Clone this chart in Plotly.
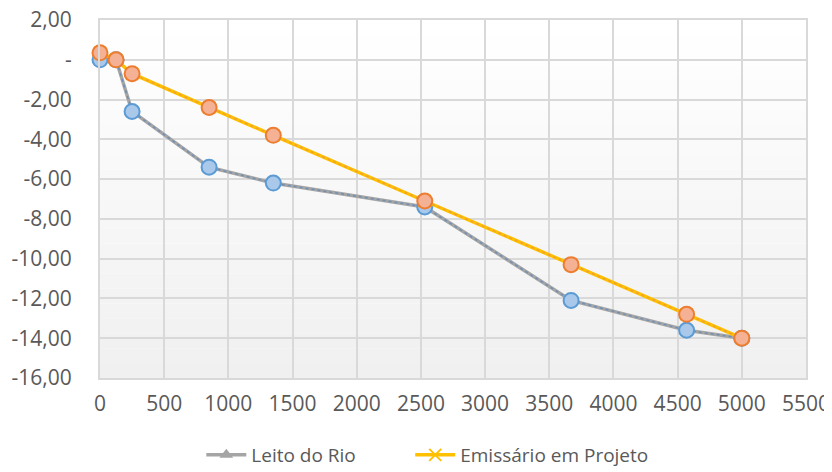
import plotly.graph_objects as go

# Data
distance = [0, 125, 250, 850, 1350, 2530, 3670, 4570, 5000]
leito_do_rio = [0.0, 0.0, -2.6, -5.4, -6.2, -7.4, -12.1, -13.6, -14.0]
emissario = [0.35, 0.0, -0.7, -2.4, -3.8, -7.1, -10.3, -12.8, -14.0]

y_tickvals = [2, 0, -2, -4, -6, -8, -10, -12, -14, -16]
y_ticktext = ["2,00", "-", "-2,00", "-4,00", "-6,00", "-8,00", "-10,00", "-12,00", "-14,00", "-16,00"]
x_tickvals = list(range(0, 5501, 500))

FONT = "Open Sans"
TXT = "#595959"
FS = 21
LFS = 19

fig = go.Figure()

# Gray bed line (legend entry)
fig.add_trace(go.Scatter(
    x=distance, y=leito_do_rio, name="Leito do Rio", mode="lines+markers",
    line=dict(color="#A5A5A5", width=3.5),
    marker=dict(symbol="triangle-up", size=12, color="#A5A5A5"),
    cliponaxis=False, legend="legend",
))
fig.add_trace(go.Scatter(
    x=distance, y=leito_do_rio, mode="lines+markers", showlegend=False, hoverinfo="skip",
    line=dict(color="#6F8FB5", width=1.5, dash="dot"),
    marker=dict(symbol="circle", size=15, color="#A9C8EA", line=dict(color="#5B9BD5", width=2)),
    cliponaxis=False,
))
# Yellow project line (legend entry)
fig.add_trace(go.Scatter(
    x=distance, y=emissario, name="Emissário em Projeto", mode="lines+markers",
    line=dict(color="#FFC000", width=3.5),
    marker=dict(symbol="x-thin", size=12, color="#FFC000", line=dict(color="#FFC000", width=2)),
    cliponaxis=False, legend="legend2",
))
fig.add_trace(go.Scatter(
    x=distance, y=emissario, mode="lines+markers", showlegend=False, hoverinfo="skip",
    line=dict(color="#F0A030", width=1.5, dash="dot"),
    marker=dict(symbol="circle", size=15, color="#F4B193", line=dict(color="#ED7D31", width=2)),
    cliponaxis=False,
))

# subtle vertical gradient background in the plot area
n = 24
shapes = []
for i in range(n):
    t = i / (n - 1)
    v = int(round(255 - t * (255 - 240)))
    shapes.append(dict(
        type="rect", xref="x domain", yref="y domain",
        x0=0, x1=1, y0=1 - (i + 1) / n, y1=1 - i / n,
        fillcolor=f"rgb({v},{v},{v})", line=dict(width=0), layer="below",
    ))

legend_common = dict(orientation="h", xanchor="left", y=-0.162, yanchor="top",
                     font=dict(family=FONT, size=LFS, color=TXT), itemwidth=40,
                     bgcolor="rgba(0,0,0,0)")

# the page body adds an 8px offset, so the figure is sized to fit the window
fig.update_layout(
    width=824, height=464,
    margin=dict(l=92, r=26, t=12, b=94, autoexpand=False),
    paper_bgcolor="white", plot_bgcolor="white",
    font=dict(family=FONT, size=FS, color=TXT),
    shapes=shapes,
    showlegend=True,
    legend=dict(x=0.1435, **legend_common),
    legend2=dict(x=0.4394, **legend_common),
    xaxis=dict(range=[0, 5500], tickvals=x_tickvals, ticks="", showgrid=True,
               gridcolor="#D9D9D9", gridwidth=2, zeroline=False, automargin=False,
               showline=True, linecolor="#D9D9D9", linewidth=2, mirror=True,
               ticklabelstandoff=6, ticklabeloverflow="allow",
               tickfont=dict(family=FONT, size=FS, color=TXT)),
    yaxis=dict(range=[-16, 2], tickvals=y_tickvals, ticktext=y_ticktext, ticks="",
               showgrid=True, gridcolor="#D9D9D9", gridwidth=2, zeroline=False, automargin=False,
               showline=True, linecolor="#D9D9D9", linewidth=2, mirror=True,
               ticklabelstandoff=22, ticklabeloverflow="allow",
               tickfont=dict(family=FONT, size=FS, color=TXT)),
)

fig.write_html("out.html")
